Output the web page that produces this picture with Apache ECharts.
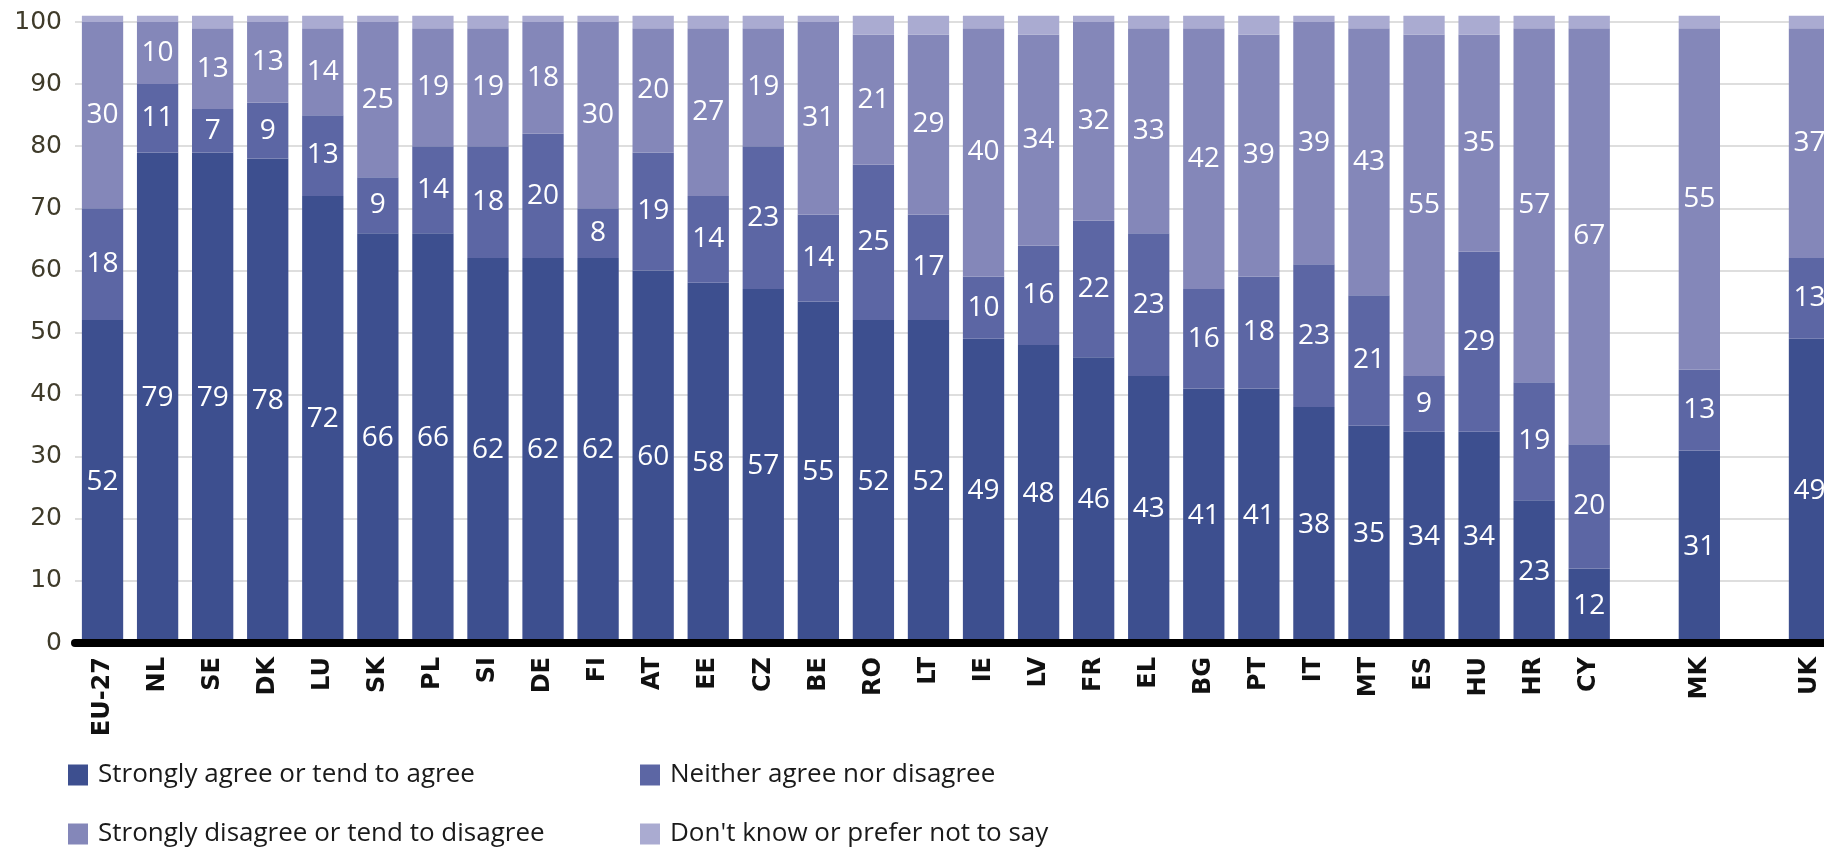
<!DOCTYPE html>
<html>
<head>
<meta charset="utf-8">
<script src="https://cdn.jsdelivr.net/npm/echarts@6/dist/echarts.min.js"></script>
<style>
html,body{margin:0;padding:0;overflow:hidden;background:#fff;}
#chart{width:1840px;height:852px;}
</style>
</head>
<body>
<div id="chart"></div>
<script>
const categories = ['EU-27','NL','SE','DK','LU','SK','PL','SI','DE','FI','AT','EE','CZ','BE','RO','LT','IE','LV','FR','EL','BG','PT','IT','MT','ES','HU','HR','CY','','MK','','UK'];
const agree     = [52,79,79,78,72,66,66,62,62,62,60,58,57,55,52,52,49,48,46,43,41,41,38,35,34,34,23,12,null,31,null,49];
const neither   = [18,11,7,9,13,9,14,18,20,8,19,14,23,14,25,17,10,16,22,23,16,18,23,21,9,29,19,20,null,13,null,13];
const disagree  = [30,10,13,13,14,25,19,19,18,30,20,27,19,31,21,29,40,34,32,33,42,39,39,43,55,35,57,67,null,55,null,37];
const dontKnow  = [1,1,2,1,2,1,2,2,1,1,2,2,2,1,3,3,2,3,1,2,2,3,1,2,3,3,2,2,null,2,null,2];
const seriesNames = ['Strongly agree or tend to agree','Neither agree nor disagree','Strongly disagree or tend to disagree',"Don't know or prefer not to say"];
const yTicks = [0,10,20,30,40,50,60,70,80,90,100];

const colors = ['#3d4f8f','#5c66a4','#8487b9','#aaabd1'];
const labelStyle = {show:true, position:'inside', color:'#fff', fontSize:28, fontFamily:'Open Sans'};

function mkSeries(name, data, color, withLabel){
  return {
    name, type:'bar', stack:'total', data, clip:false,
    barCategoryGap:'25%',
    itemStyle:{color},
    label: withLabel ? labelStyle : {show:false},
    emphasis:{disabled:true}
  };
}

const legendBase = {
  icon:'rect', itemWidth:20, itemHeight:21, padding:0, itemGap:0,
  textStyle:{fontSize:26, color:'#1a1a1a', fontFamily:'Open Sans', padding:[0,0,0,5]}
};

const chart = echarts.init(document.getElementById('chart'));
chart.setOption({
  animation:false,
  color: colors,
  grid:{left:75, right:3, top:22, bottom:209, containLabel:false},
  legend:[
    Object.assign({}, legendBase, {data:[seriesNames[0]], left:68, top:762}),
    Object.assign({}, legendBase, {data:[seriesNames[1]], left:640, top:762}),
    Object.assign({}, legendBase, {data:[seriesNames[2]], left:68, top:821}),
    Object.assign({}, legendBase, {data:[seriesNames[3]], left:640, top:821})
  ],
  xAxis:{
    type:'category', data:categories, z:10,
    axisTick:{show:false},
    axisLine:{show:true, lineStyle:{color:'#000', width:8}},
    axisLabel:{interval:0, rotate:90, fontWeight:'bold', fontSize:24, color:'#111', fontFamily:'DejaVu Sans', margin:14}
  },
  yAxis:{
    type:'value', min:yTicks[0], max:yTicks[yTicks.length-1], interval:yTicks[1]-yTicks[0],
    axisLine:{show:false}, axisTick:{show:false},
    axisLabel:{fontSize:25, color:'#3f3b2a', fontFamily:'DejaVu Sans', margin:13},
    splitLine:{lineStyle:{color:'#dedede', width:2}}
  },
  series:[
    mkSeries(seriesNames[0], agree, colors[0], true),
    mkSeries(seriesNames[1], neither, colors[1], true),
    mkSeries(seriesNames[2], disagree, colors[2], true),
    mkSeries(seriesNames[3], dontKnow, colors[3], false)
  ]
});
</script>
</body>
</html>
